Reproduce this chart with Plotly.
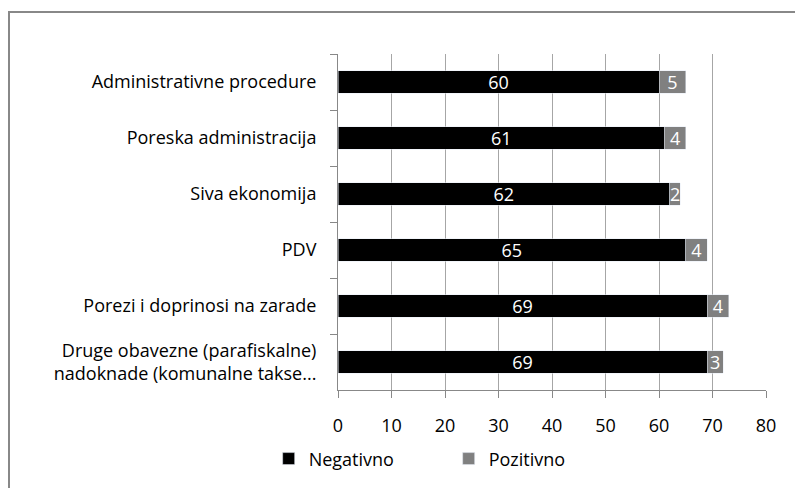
import plotly.graph_objects as go

# Survey data (reference chart, top to bottom)
categories = [
    "Administrativne procedure",
    "Poreska administracija",
    "Siva ekonomija",
    "PDV",
    "Porezi i doprinosi na zarade",
    "Druge obavezne (parafiskalne)<br>nadoknade (komunalne takse...",
]
negativno = [60, 61, 62, 65, 69, 69]
pozitivno = [5, 4, 2, 4, 4, 3]
x_ticks = [0, 10, 20, 30, 40, 50, 60, 70, 80]

FONT = "Open Sans"
SIZE = 18

fig = go.Figure()

for name, values, color in [
    ("Negativno", negativno, "#000000"),
    ("Pozitivno", pozitivno, "#808080"),
]:
    fig.add_trace(
        go.Bar(
            y=categories,
            x=values,
            name=name,
            orientation="h",
            marker_color=color,
            text=values,
            textposition="inside",
            insidetextanchor="middle",
            textangle=0,
            textfont={"color": "white", "size": SIZE, "family": FONT},
        )
    )

# page body has an 8px margin, so everything is shifted by 8px
fig.update_layout(
    width=803,
    height=488,
    barmode="stack",
    bargap=0.6,
    plot_bgcolor="white",
    paper_bgcolor="white",
    margin={"l": 330, "r": 45, "t": 46, "b": 106},
    font={"family": FONT, "size": SIZE, "color": "#000000"},
    uniformtext={"mode": "show", "minsize": SIZE},
    legend={
        "orientation": "h",
        "x": -0.162,
        "y": -0.205,
        "xanchor": "left",
        "yanchor": "middle",
        "font": {"size": SIZE},
        "entrywidth": 135,
        "entrywidthmode": "pixels",
        "traceorder": "normal",
    },
    # chart border (only top and left edges are inside the crop)
    shapes=[
        {
            "type": "rect",
            "xref": "paper",
            "yref": "paper",
            "x0": -0.7687,
            "x1": 2.0,
            "y0": -2.0,
            "y1": 1.125,
            "line": {"color": "#888888", "width": 2},
        }
    ],
)

fig.update_xaxes(
    range=[0, 80],
    tickvals=x_ticks,
    showgrid=True,
    gridcolor="#a6a6a6",
    gridwidth=1,
    zeroline=False,
    showline=True,
    linecolor="#888888",
    ticks="outside",
    ticklen=7,
    tickcolor="#888888",
    ticklabelstandoff=12,
)
fig.update_yaxes(
    autorange="reversed",
    showgrid=False,
    showline=True,
    linecolor="#888888",
    ticks="outside",
    tickson="boundaries",
    ticklen=7,
    tickcolor="#888888",
    ticklabelstandoff=17,
)

fig.write_html("out.html")
